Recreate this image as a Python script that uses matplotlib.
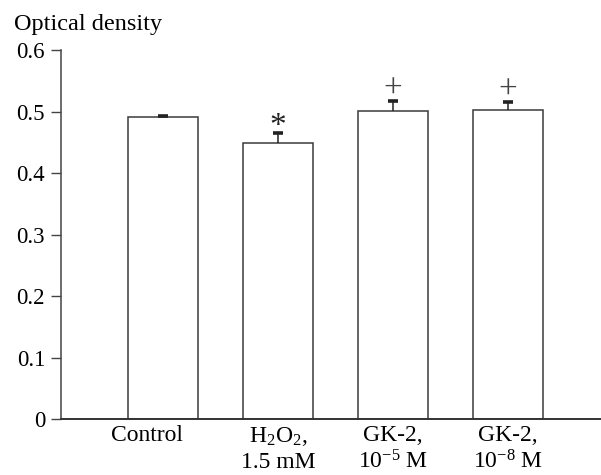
import numpy as np
import matplotlib
matplotlib.use("Agg")
import matplotlib.pyplot as plt

plt.rcParams["font.family"] = ["Liberation Serif", "DejaVu Serif"]
plt.rcParams["mathtext.fontset"] = "custom"
plt.rcParams["mathtext.rm"] = "Liberation Serif"
plt.rcParams["mathtext.it"] = "Liberation Serif:italic"

# data
groups = ["Control", "H$_2$O$_2$,\n1.5 mM", "GK-2,\n10$^{-5}$ M", "GK-2,\n10$^{-8}$ M"]
density = [0.491, 0.449, 0.501, 0.5024]
sem = [0.001, 0.0155, 0.0166, 0.013]
marks = ["", "*", "+", "+"]
y_ticks = [0, 0.1, 0.2, 0.3, 0.4, 0.5, 0.6]
y_tick_labels = ["0", "0.1", "0.2", "0.3", "0.4", "0.5", "0.6"]

fig = plt.figure(figsize=(6.01, 4.75), dpi=100)
ax = fig.add_axes([0.1015, 0.1179, 0.8985, 0.7768])

x = np.arange(len(groups))
tops = np.array(density) + np.array(sem)
ax.bar(x, density, width=0.61, color="white", edgecolor="#3a3a3a", linewidth=1.1, zorder=2)
# upper error only: stem plus a thick cap
ax.vlines(x, density, tops, color="#222222", linewidth=1.1, zorder=3)
ax.plot(x, tops, linestyle="none", marker="_", markersize=7, markeredgewidth=2.6,
        color="#222222", zorder=3)

for xi, t, m in zip(x, tops, marks):
    if m == "*":
        ax.annotate(m, (xi, t), xytext=(0, -6), textcoords="offset points",
                    ha="center", va="bottom", fontsize=24, color="#222222")
    elif m == "+":
        ax.annotate(m, (xi, t), xytext=(0, -3), textcoords="offset points",
                    ha="center", va="bottom", fontsize=24, color="#444444")

ax.set_xlim(-0.887, 3.81)
ax.set_ylim(0, 0.6)
ax.set_yticks(y_ticks, labels=y_tick_labels)

# the Control label sits a bit left of its bar (ticks themselves are hidden)
label_x = x.astype(float)
label_x[0] = -0.14
ax.set_xticks(label_x, labels=groups)
for lab in ax.get_xticklabels():
    lab.set_linespacing(1.28)
ax.tick_params(axis="x", length=0, pad=4, labelsize=17)
ax.tick_params(axis="y", direction="out", length=7.5, width=1, color="#444444", pad=4, labelsize=16.5)

for side in ["top", "right"]:
    ax.spines[side].set_visible(False)
ax.spines["left"].set_color("#444444")
ax.spines["bottom"].set_color("#333333")
ax.spines["left"].set_linewidth(1.1)
ax.spines["bottom"].set_linewidth(1.4)

fig.text(0.023, 0.937, "Optical density", fontsize=17.5, ha="left", va="baseline")

fig.savefig("out.png", dpi=100)
